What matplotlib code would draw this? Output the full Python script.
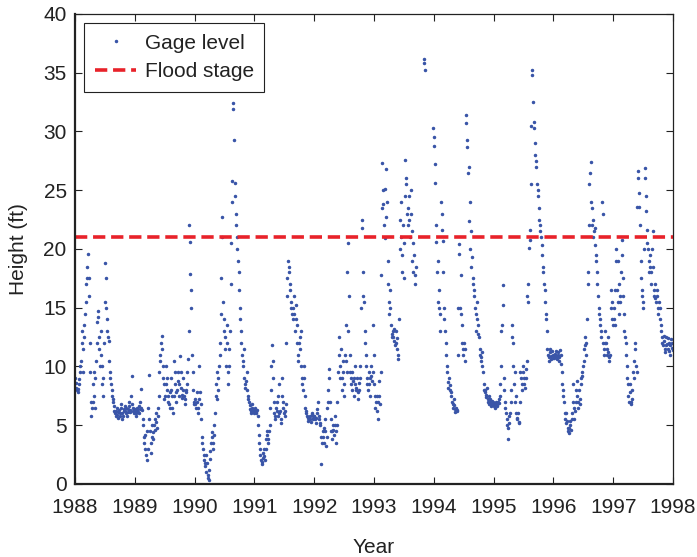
import numpy as np
import matplotlib
matplotlib.use("Agg")
import matplotlib.pyplot as plt

plt.rcParams["font.family"] = ["Liberation Sans", "DejaVu Sans"]

FLOOD_STAGE = 21.0
YEARS = list(range(1988, 1998))
nan = float("nan")

# gage readings (ft): two per week (early / late), one list pair per year
early_1988 = [9.0, 8.2, 7.8, 8.5, 9.5, 10.5, 13.0, 11.5, 13.5, 15.5, 17.5, 19.6, 16.0,
              9.5, 5.8, 7.0, 9.5, 6.5, 10.5, 13.8, 14.7, 11.5, 13.0, 10.0, 7.5, 12.0,
              18.8, 15.0, 13.0, 12.2, 9.5, 8.5, 7.5, 7.0, 6.2, 5.8, 6.5, 5.6, 6.3,
              6.0, 6.8, 5.5, 6.2, 6.6, 6.0, 5.8, 6.4, 7.0, 6.1, 9.2, 6.5, 6.0]
late_1988 = [8.6, 8.0, 8.1, 8.9, 10.0, 12.0, 9.5, 12.5, 14.5, 17.0, 18.5, 17.5, 12.0,
             7.0, 6.5, 8.5, 7.5, 9.0, 12.0, 14.2, 12.5, 10.0, 11.0, 8.5, 9.0, 15.5,
             17.5, 14.0, 12.5, 10.5, 9.0, 8.0, 7.2, 6.6, 6.0, 6.2, 5.9, 6.1, 5.8,
             6.5, 6.0, 5.8, 6.4, 6.2, 6.5, 6.1, 6.6, 6.3, 7.5, 6.8, 6.2, 6.4]
early_1989 = [6.2, 5.8, 6.5, 6.0, 6.4, 8.1, 6.3, 5.0, 3.5, 4.2, 2.0, 3.0, 9.3,
              4.5, 2.6, 5.0, 3.8, 5.5, 6.0, 4.8, 5.8, 9.5, 11.0, 12.6, 10.0, 8.5,
              7.5, 10.0, 8.0, 7.0, 6.5, 9.0, 7.5, 6.0, 10.5, 8.5, 7.0, 8.8, 7.5,
              10.9, 8.2, 7.3, 9.0, 6.8, 7.8, 8.5, 10.6, 22.0, 17.9, 15.0, 9.5, 7.0]
late_1989 = [6.0, 6.3, 6.1, 6.6, 7.0, 6.5, 5.5, 4.0, 3.0, 2.5, 4.5, 6.5, 5.5,
             3.5, 4.0, 4.4, 5.0, 4.6, 5.3, 6.5, 7.5, 10.5, 12.0, 11.5, 9.0, 7.2,
             8.5, 9.0, 7.5, 6.8, 7.8, 8.0, 6.5, 7.5, 9.5, 7.8, 8.0, 9.5, 8.5,
             9.5, 7.6, 8.0, 7.5, 7.2, 8.0, 9.5, 13.0, 20.6, 16.5, 11.0, 8.0, 6.8]
early_1990 = [7.2, 6.5, 7.8, 6.0, 10.0, 6.8, 4.0, 3.0, 2.0, 1.5, 2.5, 0.8, 0.3,
              2.1, 3.5, 4.4, 3.0, 5.0, 7.5, 9.5, 8.0, 10.0, 12.0, 17.5, 22.7, 14.0,
              12.5, 10.0, 13.5, 8.5, 11.5, 17.0, 24.0, 32.4, 29.3, 25.6, 22.0, 20.0, 18.0,
              15.0, 13.0, 11.0, 10.5, 9.0, 8.2, 9.5, 7.5, 7.0, 6.4, 6.0, 6.8, 6.2]
late_1990 = [6.8, 7.0, 6.5, 7.2, 7.8, 5.5, 3.5, 2.5, 1.8, 1.0, 1.8, 0.5, 1.2,
             2.8, 4.0, 3.5, 4.2, 6.0, 8.5, 7.2, 9.0, 11.0, 14.5, 21.0, 15.5, 13.0,
             11.5, 12.0, 9.5, 10.0, 13.0, 20.5, 25.8, 31.9, 24.5, 23.0, 21.0, 19.0, 16.5,
             14.0, 12.0, 10.0, 11.5, 8.5, 8.8, 8.0, 7.2, 6.7, 6.2, 6.5, 6.4, 6.0]
early_1991 = [6.5, 6.0, 6.3, 5.0, 3.5, 2.5, 1.7, 2.2, 3.0, 2.0, 3.8, 4.5, 3.5,
              5.0, 8.0, 11.8, 9.0, 6.0, 5.5, 7.0, 5.8, 8.5, 6.2, 5.2, 9.0, 6.5,
              5.8, 6.8, 16.0, 19.0, 18.5, 16.5, 15.0, 14.0, 16.0, 13.0, 15.2, 12.0, 10.5,
              11.5, 13.0, 9.0, 8.0, 10.0, 6.5, 6.0, 5.6, 5.5, 5.8, 5.3, 6.0, 5.5]
late_1991 = [6.2, 6.1, 5.8, 4.2, 3.0, 2.0, 1.9, 2.6, 2.4, 3.0, 4.2, 3.8, 4.5,
             6.5, 10.0, 10.5, 7.0, 5.8, 6.5, 6.2, 7.5, 6.0, 5.5, 7.5, 7.0, 6.0,
             6.2, 12.0, 17.5, 18.0, 17.0, 15.5, 14.5, 15.0, 14.5, 14.0, 13.5, 11.0, 12.0,
             12.5, 10.0, 8.5, 9.0, 7.5, 6.2, 5.8, 5.4, 5.7, 5.5, 5.9, 5.6, 5.8]
early_1992 = [5.8, 5.2, 6.0, 7.0, 5.5, 5.0, 1.7, 4.5, 3.5, 5.5, 3.2, 6.5, 8.0,
              9.8, 5.5, 3.8, 5.0, 4.2, 5.8, 3.5, 7.0, 12.5, 9.0, 11.5, 8.0, 10.5,
              7.5, 13.5, 9.5, 20.5, 16.0, 11.0, 8.5, 9.5, 7.5, 10.0, 8.0, 9.0, 7.2,
              8.6, 10.0, 22.5, 18.0, 15.5, 12.0, 10.0, 8.5, 9.5, 7.5, 10.0, 8.8, 13.5]
late_1992 = [5.5, 5.6, 6.4, 5.8, 5.2, 4.0, 3.5, 4.0, 4.8, 4.5, 4.0, 7.0, 9.0,
             7.0, 4.5, 4.5, 4.6, 5.0, 4.5, 5.0, 9.5, 11.0, 10.0, 9.0, 9.5, 8.5,
             11.0, 10.5, 18.0, 13.0, 9.5, 9.0, 8.0, 8.8, 9.0, 8.5, 8.2, 7.8, 8.0,
             9.0, 15.0, 21.8, 16.0, 13.0, 11.0, 9.0, 8.0, 8.5, 9.0, 9.2, 9.5, 11.0]
early_1993 = [8.5, 6.5, 7.5, 5.5, 8.8, 6.8, 17.8, 27.3, 23.8, 20.9, 26.8, 24.0, 17.0,
              14.5, 16.5, 12.5, 13.0, 12.2, 11.8, 13.0, 11.5, 10.6, 20.0, 24.0, 18.0, 22.0,
              17.5, 27.6, 25.5, 22.0, 24.5, 21.0, 25.0, 19.0, 20.5, 17.0, 18.5, nan, nan,
              nan, nan, nan, nan, 36.2, 35.2, nan, nan, nan, nan, nan, nan, 30.3]
late_1993 = [7.5, 7.0, 6.2, 7.0, 7.5, 9.5, 23.5, 25.0, 22.0, 25.1, 22.7, 19.0, 15.5,
             15.0, 13.5, 12.8, 12.5, 13.2, 12.0, 12.4, 11.0, 14.0, 22.5, 21.0, 19.5, 20.5,
             24.5, 26.0, 23.0, 23.5, 22.5, 23.0, 21.5, 18.0, 19.5, 17.8, nan, nan, nan,
             nan, nan, nan, nan, 35.8, nan, nan, nan, nan, nan, nan, nan, 29.5]
early_1994 = [28.8, 25.6, 22.0, 19.0, 16.5, 14.5, 24.0, 21.6, 18.0, 14.0, 12.0, 10.0, 8.7,
              9.0, 8.0, 7.5, 6.8, 7.2, 6.1, 6.5, 6.3, 15.0, 20.4, 17.8, 13.5, 11.5,
              12.0, 10.5, 31.4, 29.3, 27.0, 24.0, 21.5, 19.3, 17.0, 16.0, 14.5, 15.5, 13.5,
              12.5, 11.0, 10.5, 10.0, 8.5, 8.0, 7.6, 8.2, 7.2, 7.5, 7.0, 6.8, 7.0]
late_1994 = [27.2, 20.6, 18.0, 15.5, 15.0, 13.0, 23.0, 20.7, 15.0, 13.0, 11.0, 9.5, 8.2,
             8.4, 7.8, 7.0, 6.5, 6.7, 6.4, 6.2, 11.0, 19.6, 15.0, 14.5, 12.0, 11.0,
             11.5, 30.7, 28.7, 26.5, 22.4, 20.0, 18.5, 17.5, 16.5, 15.0, 13.0, 14.0, 12.8,
             11.5, 10.8, 11.2, 9.5, 8.0, 7.8, 7.4, 7.0, 6.8, 7.2, 6.6, 7.1, 6.7]
early_1995 = [6.8, 6.5, 7.0, 6.6, 6.9, 7.5, 10.0, 13.5, 16.9, 8.0, 6.5, 5.5, 3.8,
              5.2, 6.0, 8.0, 13.5, 12.0, 9.5, 7.5, 5.5, 6.0, 5.2, 9.5, 8.5, 10.0,
              9.0, 8.2, 9.8, 16.0, 17.0, 20.8, 25.5, 35.2, 32.5, 30.3, 28.0, 27.0, 25.0,
              23.5, 22.0, 21.0, 19.5, 18.0, 16.5, 14.5, 13.0, 11.0, 10.8, 11.2, 10.6, 11.0]
late_1995 = [6.6, 6.8, 6.7, 7.0, 7.2, 8.5, 13.0, 15.2, 9.0, 7.0, 6.0, 5.0, 4.8,
             5.8, 7.0, 12.5, 10.0, 8.5, 7.0, 6.0, 5.6, 5.3, 7.0, 9.0, 8.0, 9.5,
             8.5, 9.0, 10.5, 15.5, 20.1, 21.6, 30.5, 34.8, 30.8, 29.0, 27.5, 25.5, 24.5,
             22.5, 21.5, 20.3, 18.5, 17.0, 15.5, 14.0, 11.5, 10.5, 11.5, 10.9, 11.3, 10.7]
early_1996 = [11.0, 10.8, 11.3, 10.6, 11.2, 10.5, 11.0, 9.5, 8.0, 7.0, 5.5, 6.0, 4.8,
              4.3, 5.0, 4.6, 6.0, 8.5, 5.5, 7.0, 8.8, 6.5, 8.0, 7.2, 9.0, 9.5,
              10.5, 12.5, 11.0, 14.0, 18.0, 25.5, 27.4, 23.5, 22.5, 21.5, 20.3, 19.0, 17.0,
              15.0, 14.0, 13.0, 24.0, 12.0, 11.0, 13.0, 11.5, 12.5, 10.5, 11.0, 16.5, 14.0]
late_1996 = [10.7, 11.1, 10.9, 11.0, 10.8, 11.4, 10.2, 8.5, 7.5, 6.0, 5.2, 5.4, 4.5,
             4.8, 5.4, 5.5, 7.0, 6.5, 6.2, 8.0, 7.5, 7.0, 6.8, 8.5, 9.2, 10.0,
             11.5, 11.8, 12.0, 17.0, 22.0, 26.5, 24.0, 22.0, 21.0, 21.8, 19.5, 18.0, 16.0,
             14.5, 13.5, 12.5, 23.0, 11.5, 12.0, 12.0, 11.0, 11.2, 10.8, 15.0, 15.5, 13.5]
early_1997 = [15.0, 13.5, 20.0, 16.5, 19.0, 14.5, 16.0, 20.8, 17.5, 14.5, 12.5, 11.0, 9.0,
              7.5, 8.5, 6.8, 7.2, 9.5, 10.5, 12.0, 9.5, 26.6, 24.8, 22.0, 17.5, 16.0,
              15.0, 26.9, 24.5, 21.6, 20.0, 18.0, 19.5, 17.0, 21.5, 16.5, 17.0, 15.5, 16.0,
              14.5, 15.0, 13.5, 12.5, 11.8, 12.2, 11.2, 12.5, 11.5, 12.0, 11.0, 12.3, 11.6]
late_1997 = [14.0, 16.5, 19.0, 15.5, 17.0, 15.5, 18.0, 19.5, 16.0, 13.0, 12.0, 10.0, 8.5,
             7.0, 7.8, 7.0, 8.0, 9.0, 11.5, 10.0, 23.6, 26.0, 23.6, 19.0, 16.5, 15.5,
             20.0, 26.0, 23.2, 20.5, 19.0, 18.5, 18.0, 20.0, 18.5, 16.0, 15.8, 16.5, 15.0,
             15.5, 14.0, 13.0, 12.0, 12.6, 11.5, 11.8, 11.9, 12.4, 11.3, 11.8, 12.0, 11.4]

early = [early_1988, early_1989, early_1990, early_1991, early_1992,
         early_1993, early_1994, early_1995, early_1996, early_1997]
late = [late_1988, late_1989, late_1990, late_1991, late_1992,
        late_1993, late_1994, late_1995, late_1996, late_1997]

t, h = [], []
for yr, a, b in zip(YEARS, early, late):
    n = len(a)
    t.extend(yr + (np.arange(n) + 0.25) / n)
    h.extend(a)
    t.extend(yr + (np.arange(n) + 0.75) / n)
    h.extend(b)
t = np.array(t)
h = np.array(h)
order = np.argsort(t)
t, h = t[order], h[order]

fig = plt.figure(figsize=(6.97, 5.57), dpi=100)
ax = fig.add_axes([0.1076, 0.1311, 0.858, 0.8438])

ax.plot(t, h, ".", color="#3a55a8", markersize=3.0, label="Gage level")
ax.axhline(FLOOD_STAGE, color="#e8222a", lw=2.6, dashes=(3.4, 1.6), label="Flood stage")

ax.set_xlim(1988, 1998)
ax.set_ylim(0, 40)
ax.set_xticks(range(1988, 1999))
ax.set_yticks(range(0, 41, 5))
ax.tick_params(direction="in", top=True, right=True, length=5, width=0.8,
               labelsize=15, color="#222222", labelcolor="#222222")
ax.tick_params(axis="x", pad=10)
ax.tick_params(axis="y", pad=6)
for s in ax.spines.values():
    s.set_linewidth(0.9)
    s.set_color("#222222")
ax.spines["left"].set_linewidth(1.6)
ax.spines["bottom"].set_linewidth(1.6)
ax.set_xlabel("Year", fontsize=15, labelpad=15, color="#222222")
ax.set_ylabel("Height (ft)", fontsize=15, labelpad=11, color="#222222")

leg = ax.legend(loc="upper left", fontsize=15, fancybox=False, framealpha=1,
                edgecolor="#222222", handlelength=2.0, borderpad=0.5,
                labelspacing=0.45, handletextpad=0.4, borderaxespad=0.45,
                markerscale=1.0)
leg.get_frame().set_linewidth(0.8)
for txt in leg.get_texts():
    txt.set_color("#222222")

fig.savefig("out.png", dpi=100)
